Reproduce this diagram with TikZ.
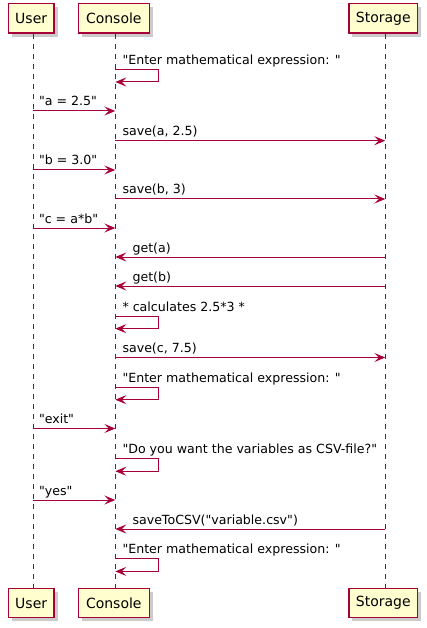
\documentclass[tikz,border=0pt]{standalone}
\usepackage{fontspec}
\setmainfont{DejaVu Sans}[Ligatures=TeXOff]
\usetikzlibrary{arrows.meta,shadows,calc}
\definecolor{pb}{HTML}{A80036}
\definecolor{pf}{HTML}{FEFECE}
\begin{document}
\begin{tikzpicture}[x=1pt,y=-1pt,
  part/.style={draw=pb,fill=pf,line width=1.4pt,inner sep=0pt,
    font=\fontsize{14}{16}\selectfont,
    drop shadow={shadow xshift=3.5pt,shadow yshift=-3.5pt,fill=black!45,opacity=.45}},
  life/.style={draw=pb,line width=1pt,dash pattern=on 5pt off 5pt},
  msg/.style={draw=pb,line width=1pt,-{Stealth[length=11pt,width=9pt,inset=4.5pt]}},
  lbl/.style={font=\fontsize{12.6}{15}\selectfont,inner sep=0pt,anchor=base west}]
\fill[white] (0,0) rectangle (427,628);
\useasboundingbox (0,0) rectangle (427,628);
\def\ux{33.3}\def\cx{115.3}\def\sx{385.3}
% participants
\node[part,minimum width=45.7pt,minimum height=29.5pt] (uTop) at (31.2,18.3) {User};
\node[part,minimum width=71pt,minimum height=29.5pt] (cTop) at (113.8,18.3) {Console};
\node[part,minimum width=68.7pt,minimum height=29.5pt] (sTop) at (383.3,18.3) {Storage};
\node[part,minimum width=45.7pt,minimum height=29.5pt] (uBot) at (31.2,603) {User};
\node[part,minimum width=71pt,minimum height=29.5pt] (cBot) at (113.8,603) {Console};
\node[part,minimum width=68.7pt,minimum height=29.5pt] (sBot) at (383.3,603) {Storage};
% lifelines
\draw[life] (uTop.south -| \ux,0) -- (uBot.north -| \ux,0);
\draw[life] (cTop.south -| \cx,0) -- (cBot.north -| \cx,0);
\draw[life] (sTop.south -| \sx,0) -- (sBot.north -| \sx,0);
% 1 self
\coordinate (c1) at (\cx,69.3);
\draw[msg] (c1) -- ++(43,0) -- ++(0,12.7) -- ++(-43,0);
\node[lbl] at ($(c1)+(7,-5)$) {"Enter mathematical expression: "};
% 2
\coordinate (u2) at (\ux,111); \coordinate (c2) at (\cx,111);
\draw[msg] (u2) -- (c2);
\node[lbl] at ($(u2)+(5.5,-5)$) {"a = 2.5"};
% 3
\coordinate (c3) at (\cx,140.7); \coordinate (s3) at (\sx,140.7);
\draw[msg] (c3) -- (s3);
\node[lbl] at ($(c3)+(7,-5)$) {save(a, 2.5)};
% 4
\coordinate (u4) at (\ux,170); \coordinate (c4) at (\cx,170);
\draw[msg] (u4) -- (c4);
\node[lbl] at ($(u4)+(5.5,-5)$) {"b = 3.0"};
% 5
\coordinate (c5) at (\cx,199); \coordinate (s5) at (\sx,199);
\draw[msg] (c5) -- (s5);
\node[lbl] at ($(c5)+(7,-5)$) {save(b, 3)};
% 6
\coordinate (u6) at (\ux,228); \coordinate (c6) at (\cx,228);
\draw[msg] (u6) -- (c6);
\node[lbl] at ($(u6)+(5.5,-5)$) {"c = a*b"};
% 7
\coordinate (s7) at (\sx,257); \coordinate (c7) at (\cx,257);
\draw[msg] (s7) -- (c7);
\node[lbl] at ($(c7)+(17,-5)$) {get(a)};
% 8
\coordinate (s8) at (\sx,286); \coordinate (c8) at (\cx,286);
\draw[msg] (s8) -- (c8);
\node[lbl] at ($(c8)+(17,-5)$) {get(b)};
% 9 self
\coordinate (c9) at (\cx,316);
\draw[msg] (c9) -- ++(43,0) -- ++(0,12.7) -- ++(-43,0);
\node[lbl] at ($(c9)+(7,-5)$) {* calculates 2.5*3 *};
% 10
\coordinate (c10) at (\cx,357.5); \coordinate (s10) at (\sx,357.5);
\draw[msg] (c10) -- (s10);
\node[lbl] at ($(c10)+(7,-5)$) {save(c, 7.5)};
% 11 self
\coordinate (c11) at (\cx,387);
\draw[msg] (c11) -- ++(43,0) -- ++(0,12.7) -- ++(-43,0);
\node[lbl] at ($(c11)+(7,-5)$) {"Enter mathematical expression: "};
% 12
\coordinate (u12) at (\ux,428.5); \coordinate (c12) at (\cx,428.5);
\draw[msg] (u12) -- (c12);
\node[lbl] at ($(u12)+(5.5,-5)$) {"exit"};
% 13 self
\coordinate (c13) at (\cx,458.5);
\draw[msg] (c13) -- ++(43,0) -- ++(0,12.7) -- ++(-43,0);
\node[lbl] at ($(c13)+(7,-5)$) {"Do you want the variables as CSV-file?"};
% 14
\coordinate (u14) at (\ux,500); \coordinate (c14) at (\cx,500);
\draw[msg] (u14) -- (c14);
\node[lbl] at ($(u14)+(5.5,-5)$) {"yes"};
% 15
\coordinate (s15) at (\sx,529); \coordinate (c15) at (\cx,529);
\draw[msg] (s15) -- (c15);
\node[lbl] at ($(c15)+(17,-5)$) {saveToCSV("variable.csv")};
% 16 self
\coordinate (c16) at (\cx,558.7);
\draw[msg] (c16) -- ++(43,0) -- ++(0,12.7) -- ++(-43,0);
\node[lbl] at ($(c16)+(7,-5)$) {"Enter mathematical expression: "};
\end{tikzpicture}
\end{document}
